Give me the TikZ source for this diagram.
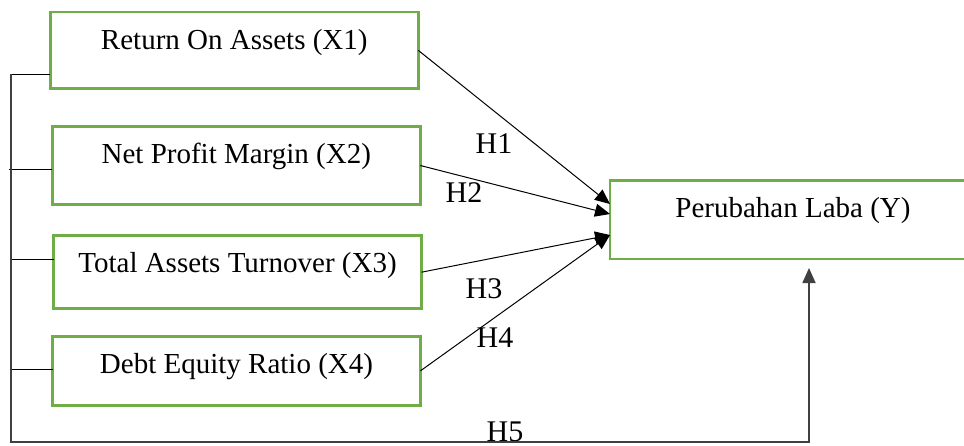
\documentclass[tikz,border=0pt]{standalone}
\usepackage{fontspec}
\setmainfont{Liberation Serif}
\usetikzlibrary{arrows.meta}
\definecolor{boxgreen}{RGB}{112,173,71}
\begin{document}
\begin{tikzpicture}[x=0.5pt, y=-0.5pt,
  varbox/.style={draw=boxgreen, line width=1.35pt, outer sep=0pt, inner sep=0pt, minimum width=184pt, text height=18.5pt, text depth=#1, anchor=north, font=\fontsize{14.5}{17}\selectfont},
  hlabel/.style={inner sep=0pt, font=\fontsize{15}{18}\selectfont},
  link/.style={line width=0.5pt, -{Triangle[length=7.5pt, width=6.5pt]}},
  stub/.style={line width=0.5pt},
  spine/.style={line width=0.8pt, black!75, -{Triangle[length=7.5pt, width=6.5pt]}}]
\useasboundingbox (0,0) rectangle (964,445);
\node[varbox=19.85pt] (x1) at (234.3,12){Return On Assets (X1)};
\node[varbox=20.7pt] (x2) at (236.3,126.3){Net Profit Margin (X2)};
\node[varbox=18pt] (x3) at (237.5,235.7){Total Assets Turnover (X3)};
\node[varbox=16pt] (x4) at (236.5,336.3){Debt Equity Ratio (X4)};
\node[varbox=20.8pt, minimum width=183pt] (y) at (793,180.5){Perubahan Laba (Y)};
\draw[link](x1.east) -- ([yshift=7.9pt]y.west);
\draw[link](x2.east) -- ([yshift=2.9pt]y.west);
\draw[link](x3.east) -- ([yshift=-7.6pt]y.west);
\draw[link](x4.east) -- ([yshift=-7.6pt]y.west);
\node[hlabel] (h1) at (494,143.5){H1};
\node[hlabel] (h2) at (464,192.5){H2};
\node[hlabel] (h3) at (484,289){H3};
\node[hlabel] (h4) at (495,338){H4};
\node[hlabel] (h5) at (505,432){H5};
\coordinate (s1) at (11,74);
\coordinate (s2) at (9,169);
\coordinate (s3) at (11,259);
\coordinate (s4) at (12,369);
\coordinate (base) at (11,442);
\draw[stub](s1) -- (s1 -| x1.west);
\draw[stub](s2) -- (s2 -| x2.west);
\draw[stub](s3) -- (s3 -| x3.west);
\draw[stub](s4) -- (s4 -| x4.west);
\draw[spine](s1) -- (base) -| ([xshift=8pt, yshift=-4.45pt]y.south);
\end{tikzpicture}
\end{document}
